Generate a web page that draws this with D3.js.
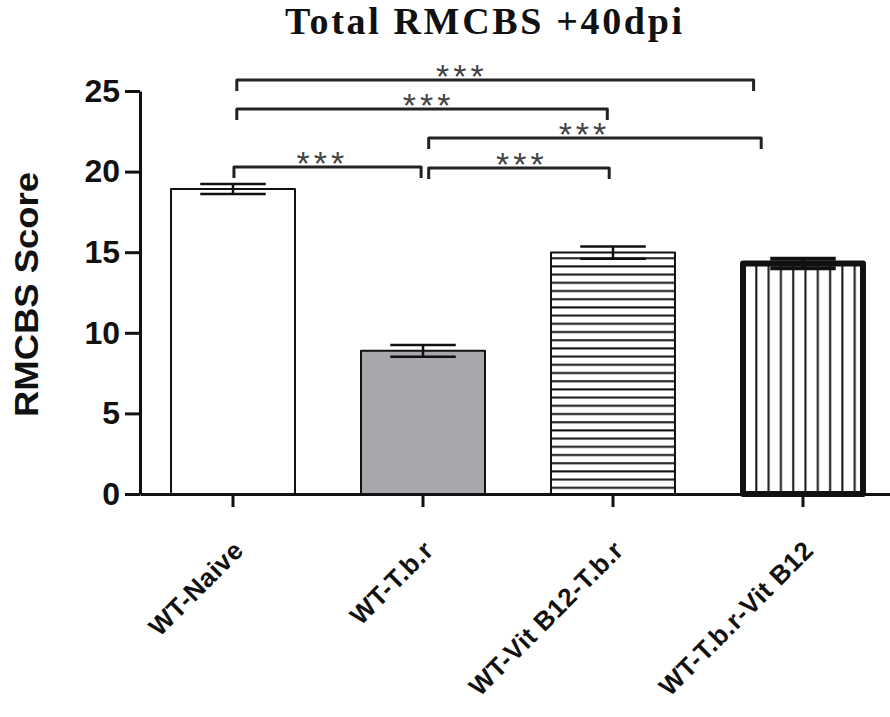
<!DOCTYPE html>
<html>
<head>
<meta charset="utf-8">
<script src="https://cdn.jsdelivr.net/npm/d3@7"></script>
<style>
  body { margin: 0; background: #fff; }
</style>
</head>
<body>
<svg id="chart" width="890" height="717"></svg>
<script>
const categories = ["WT-Naive", "WT-T.b.r", "WT-Vit B12-T.b.r", "WT-T.b.r-Vit B12"];
const means = [18.92, 8.88, 14.98, 14.3];
const sems = [0.31, 0.37, 0.38, 0.3];
const yTicks = [0, 5, 10, 15, 20, 25];

// significance brackets: ends + star position in group-index units, level in score units
const bracketFrom = [0.02, 0.02, 1.03, 0.005, 1.03];
const bracketTo = [2.74, 1.97, 2.78, 0.99, 1.98];
const bracketLevel = [25.68, 23.88, 22.08, 20.28, 20.22];
const starAt = [1.205, 1.03, 1.85, 0.47, 1.52];
const starText = ["***", "***", "***", "***", "***"];

const svg = d3.select("#chart")
const defs = svg.append("defs")

defs.append("pattern")
    .attr("id", "hstripes")
    .attr("patternUnits", "userSpaceOnUse")
    .attr("width", 20).attr("height", 8.2)
    .call(p => {
        p.append("rect").attr("width", 20).attr("height", 8.2).attr("fill", "#fff")
        p.append("rect").attr("y", 3).attr("width", 20).attr("height", 2).attr("fill", "#111")
    })

defs.append("pattern")
    .attr("id", "vstripes")
    .attr("patternUnits", "userSpaceOnUse")
    .attr("width", 12.3).attr("height", 20)
    .call(p => {
        p.append("rect").attr("width", 12.3).attr("height", 20).attr("fill", "#fff")
        p.append("rect").attr("x", 5).attr("width", 2).attr("height", 20).attr("fill", "#111")
    })

const fills = ["#fff", "#a8a8ac", "url(#hstripes)", "url(#vstripes)"]
const strokeW = [2, 2, 2, 6]

const x = d3.scaleBand()
    .domain(categories)
    .range([140, 896])
    .paddingInner(0.337)
    .paddingOuter(0.158)

const y = d3.scaleLinear()
    .domain([0, 25])
    .range([494, 91])

// group index -> pixel (for brackets)
const xi = d3.scaleLinear()
    .domain([0, categories.length - 1])
    .range([x(categories[0]) + x.bandwidth() / 2, x(categories[categories.length - 1]) + x.bandwidth() / 2])

// title
svg.append("text")
    .text("Total RMCBS +40dpi")
    .attr("x", 285)
    .attr("y", 34)
    .attr("textLength", 397)
    .attr("lengthAdjust", "spacing")
    .style("font-family", "'Liberation Serif', 'Times New Roman', serif")
    .style("font-weight", "bold")
    .style("font-size", "38px")
    .attr("fill", "#111")

// bars
const bars = svg.append("g")
bars.selectAll("rect")
    .data(means)
    .join("rect")
    .attr("x", (d, i) => x(categories[i]) + strokeW[i] / 2)
    .attr("y", d => y(d))
    .attr("width", (d, i) => x.bandwidth() - strokeW[i])
    .attr("height", d => y(0) - y(d))
    .attr("fill", (d, i) => fills[i])
    .attr("stroke", "#111")
    .attr("stroke-width", (d, i) => strokeW[i])
    .attr("stroke-linejoin", "round")

// error bars
const capW = x.bandwidth() * 0.52
const err = svg.append("g").attr("stroke", "#111")
means.forEach((m, i) => {
    const cx = x(categories[i]) + x.bandwidth() / 2
    const lo = m - sems[i], hi = m + sems[i]
    const w = i === 3 ? 4 : 2.5
    err.append("line").attr("x1", cx).attr("x2", cx).attr("y1", y(lo)).attr("y2", y(hi)).attr("stroke-width", w)
    err.append("line").attr("x1", cx - capW / 2).attr("x2", cx + capW / 2).attr("y1", y(hi)).attr("y2", y(hi)).attr("stroke-width", w)
    err.append("line").attr("x1", cx - capW / 2).attr("x2", cx + capW / 2).attr("y1", y(lo)).attr("y2", y(lo)).attr("stroke-width", w)
})

// y axis
const yAxis = svg.append("g")
    .attr("transform", "translate(140,0)")
    .call(d3.axisLeft(y).tickValues(yTicks).tickSize(15).tickSizeOuter(0).tickPadding(5))
yAxis.select(".domain").attr("stroke", "#111").attr("stroke-width", 3)
yAxis.selectAll(".tick line").attr("stroke", "#111").attr("stroke-width", 3)
yAxis.selectAll(".tick text")
    .style("font-family", "'Liberation Sans', Arial, sans-serif")
    .style("font-weight", "bold")
    .style("font-size", "32px")
    .attr("fill", "#111")

// x axis
const xAxis = svg.append("g")
    .attr("transform", `translate(0,${y(0)})`)
    .call(d3.axisBottom(x).tickSize(13).tickSizeOuter(0).tickFormat(""))
xAxis.select(".domain").attr("stroke", "#111").attr("stroke-width", 3)
xAxis.selectAll(".tick line").attr("stroke", "#111").attr("stroke-width", 3)

// rotated category labels
svg.append("g")
    .selectAll("text")
    .data(categories)
    .join("text")
    .text(d => d)
    .attr("transform", d => `translate(${x(d) + x.bandwidth() / 2 + 12},${y(0) + 58}) rotate(-45)`)
    .attr("text-anchor", "end")
    .style("font-family", "'Liberation Sans', Arial, sans-serif")
    .style("font-weight", "bold")
    .style("font-size", "26px")
    .style("letter-spacing", "0.5px")
    .attr("fill", "#111")

// y label
svg.append("text")
    .text("RMCBS Score")
    .attr("transform", `translate(38,${(y(0) + y(25)) / 2 + 2}) rotate(-90)`)
    .attr("text-anchor", "middle")
    .attr("textLength", 245)
    .attr("lengthAdjust", "spacingAndGlyphs")
    .style("font-family", "'Liberation Sans', Arial, sans-serif")
    .style("font-weight", "bold")
    .style("font-size", "34px")
    .attr("fill", "#111")

// significance brackets
const legLen = 11
const br = svg.append("g")
bracketLevel.forEach((lv, i) => {
    const yy = y(lv)
    const x1 = xi(bracketFrom[i]), x2 = xi(bracketTo[i])
    br.append("path")
        .attr("d", `M${x1},${yy + legLen}V${yy}H${x2}V${yy + legLen}`)
        .attr("fill", "none")
        .attr("stroke", "#222")
        .attr("stroke-width", 3)
        .attr("stroke-linejoin", "round")
    br.append("text")
        .text(starText[i])
        .attr("x", xi(starAt[i]))
        .attr("y", yy + 8)
        .attr("text-anchor", "middle")
        .style("font-family", "'Liberation Sans', Arial, sans-serif")
        .style("font-size", "34px")
        .style("letter-spacing", "4px")
        .attr("fill", "#444")
})
</script>
</body>
</html>
